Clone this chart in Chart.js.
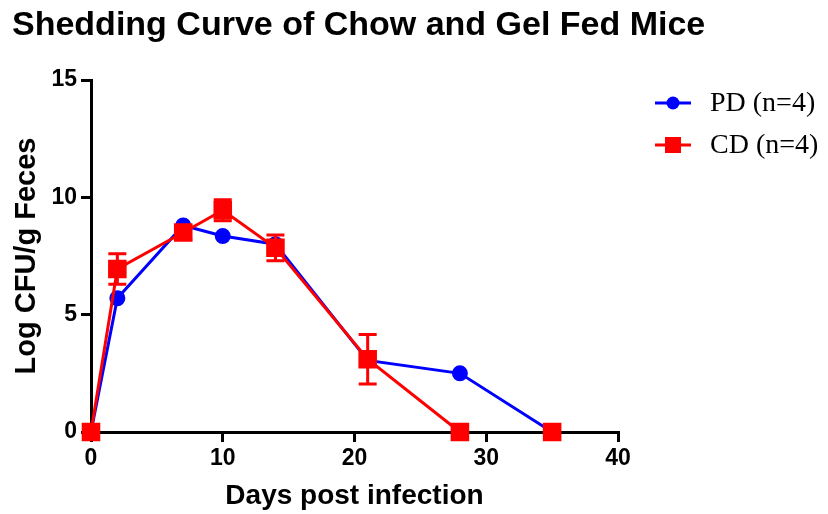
<!DOCTYPE html>
<html>
<head>
<meta charset="utf-8">
<script src="https://cdn.jsdelivr.net/npm/chart.js@4/dist/chart.umd.min.js"></script>
<style>
  html, body { margin: 0; padding: 0; background: #fff; }
  #wrap { width: 828px; height: 514px; }
</style>
</head>
<body>
<div id="wrap"><canvas id="shedding"></canvas></div>
<script>
const days = [0, 2, 7, 10, 14, 21, 28, 35];
const pdValues = [0, 5.7, 8.8, 8.35, 8.0, 3.05, 2.5, 0];
const cdValues = [0, 6.95, 8.5, 9.45, 7.85, 3.1, 0, 0];
const cdErrors = [0, 0.65, 0.3, 0.45, 0.55, 1.05, 0, 0];
const xTicks = [0, 10, 20, 30, 40];
const yTicks = [0, 5, 10, 15];
const chartTitle = 'Shedding Curve of Chow and Gel Fed Mice';

const BLUE = '#0000ff';
const RED = '#ff0000';
const sans = '"Liberation Sans", Arial, sans-serif';

// red error bars, drawn from the y scale
const errorBars = {
  id: 'errorBars',
  afterDatasetsDraw(chart) {
    const { ctx, scales: { x, y } } = chart;
    ctx.save();
    ctx.strokeStyle = RED;
    ctx.lineWidth = 3;
    days.forEach((d, i) => {
      const e = cdErrors[i];
      if (!e) return;
      const px = x.getPixelForValue(d);
      const top = y.getPixelForValue(cdValues[i] + e);
      const bot = y.getPixelForValue(cdValues[i] - e);
      ctx.beginPath();
      ctx.moveTo(px, top); ctx.lineTo(px, bot);
      ctx.moveTo(px - 9, top); ctx.lineTo(px + 9, top);
      ctx.moveTo(px - 9, bot); ctx.lineTo(px + 9, bot);
      ctx.stroke();
    });
    ctx.restore();
  }
};

// title across the full width (the built-in one gets squeezed by the right padding)
const wideTitle = {
  id: 'wideTitle',
  afterDraw(chart) {
    const { ctx } = chart;
    ctx.save();
    ctx.fillStyle = '#000';
    ctx.font = 'bold 34px ' + sans;
    ctx.textBaseline = 'middle';
    ctx.fillText(chartTitle, 12, 26);
    ctx.restore();
  }
};

// legend at the right, line + marker + serif label
const sideLegend = {
  id: 'sideLegend',
  afterDraw(chart) {
    const { ctx } = chart;
    const x0 = chart.chartArea.right + 37;
    const rows = [
      { label: 'PD (n=4)', color: BLUE, style: 'circle', y: 103 },
      { label: 'CD (n=4)', color: RED, style: 'rect', y: 145 }
    ];
    ctx.save();
    rows.forEach(r => {
      ctx.strokeStyle = r.color;
      ctx.fillStyle = r.color;
      ctx.lineWidth = 3;
      ctx.beginPath();
      ctx.moveTo(x0, r.y); ctx.lineTo(x0 + 36, r.y);
      ctx.stroke();
      if (r.style === 'circle') {
        ctx.beginPath();
        ctx.arc(x0 + 18, r.y, 6.5, 0, Math.PI * 2);
        ctx.fill();
      } else {
        ctx.fillRect(x0 + 10, r.y - 8, 16, 16);
      }
      ctx.fillStyle = '#000';
      ctx.font = '28px "Liberation Serif", "Times New Roman", serif';
      ctx.textBaseline = 'middle';
      ctx.fillText(r.label, x0 + 55, r.y + 1);
    });
    ctx.restore();
  }
};

new Chart(document.getElementById('shedding'), {
  type: 'line',
  data: {
    datasets: [
      {
        label: 'PD (n=4)',
        data: days.map((d, i) => ({ x: d, y: pdValues[i] })),
        borderColor: BLUE,
        backgroundColor: BLUE,
        borderWidth: 3,
        pointStyle: 'circle',
        pointRadius: 6.5,
        pointHoverRadius: 6.5,
        clip: false,
        order: 1
      },
      {
        label: 'CD (n=4)',
        data: days.map((d, i) => ({ x: d, y: cdValues[i] })),
        borderColor: RED,
        backgroundColor: RED,
        borderWidth: 3,
        pointStyle: 'rect',
        pointRadius: 11,
        pointHoverRadius: 11,
        clip: false,
        order: 0,
        segment: {
          borderColor: c => (c.p0.parsed.y === 0 && c.p1.parsed.y === 0) ? 'rgba(0,0,0,0)' : RED
        }
      }
    ]
  },
  options: {
    responsive: true,
    maintainAspectRatio: false,
    animation: false,
    layout: { padding: { left: 12, right: 210, top: 80, bottom: 0 } },
    plugins: {
      legend: { display: false },
      tooltip: { enabled: false },
      title: { display: false }
    },
    scales: {
      x: {
        type: 'linear',
        min: 0,
        max: 40,
        afterBuildTicks: s => { s.ticks = xTicks.map(v => ({ value: v })); },
        afterFit: s => { s.height = 82; },
        border: { color: '#000', width: 3 },
        grid: { drawOnChartArea: false, drawTicks: true, tickLength: 10, color: '#000', lineWidth: 3 },
        ticks: { color: '#000', padding: 3, font: { family: sans, size: 23, weight: 'bold' } },
        title: {
          display: true,
          text: 'Days post infection',
          color: '#000',
          font: { family: sans, size: 28, weight: 'bold' },
          padding: { top: 0, bottom: 1 }
        }
      },
      y: {
        min: 0,
        max: 15,
        afterBuildTicks: s => { s.ticks = yTicks.map(v => ({ value: v })); },
        afterFit: s => { s.width = 79; },
        border: { color: '#000', width: 3 },
        grid: { drawOnChartArea: false, drawTicks: true, tickLength: 10, color: '#000', lineWidth: 3 },
        ticks: { color: '#000', padding: 4, font: { family: sans, size: 23, weight: 'bold' } },
        title: {
          display: true,
          text: 'Log CFU/g Feces',
          color: '#000',
          font: { family: sans, size: 29, weight: 'bold' },
          padding: { top: -2, bottom: 0 }
        }
      }
    }
  },
  plugins: [errorBars, wideTitle, sideLegend]
});
</script>
</body>
</html>
